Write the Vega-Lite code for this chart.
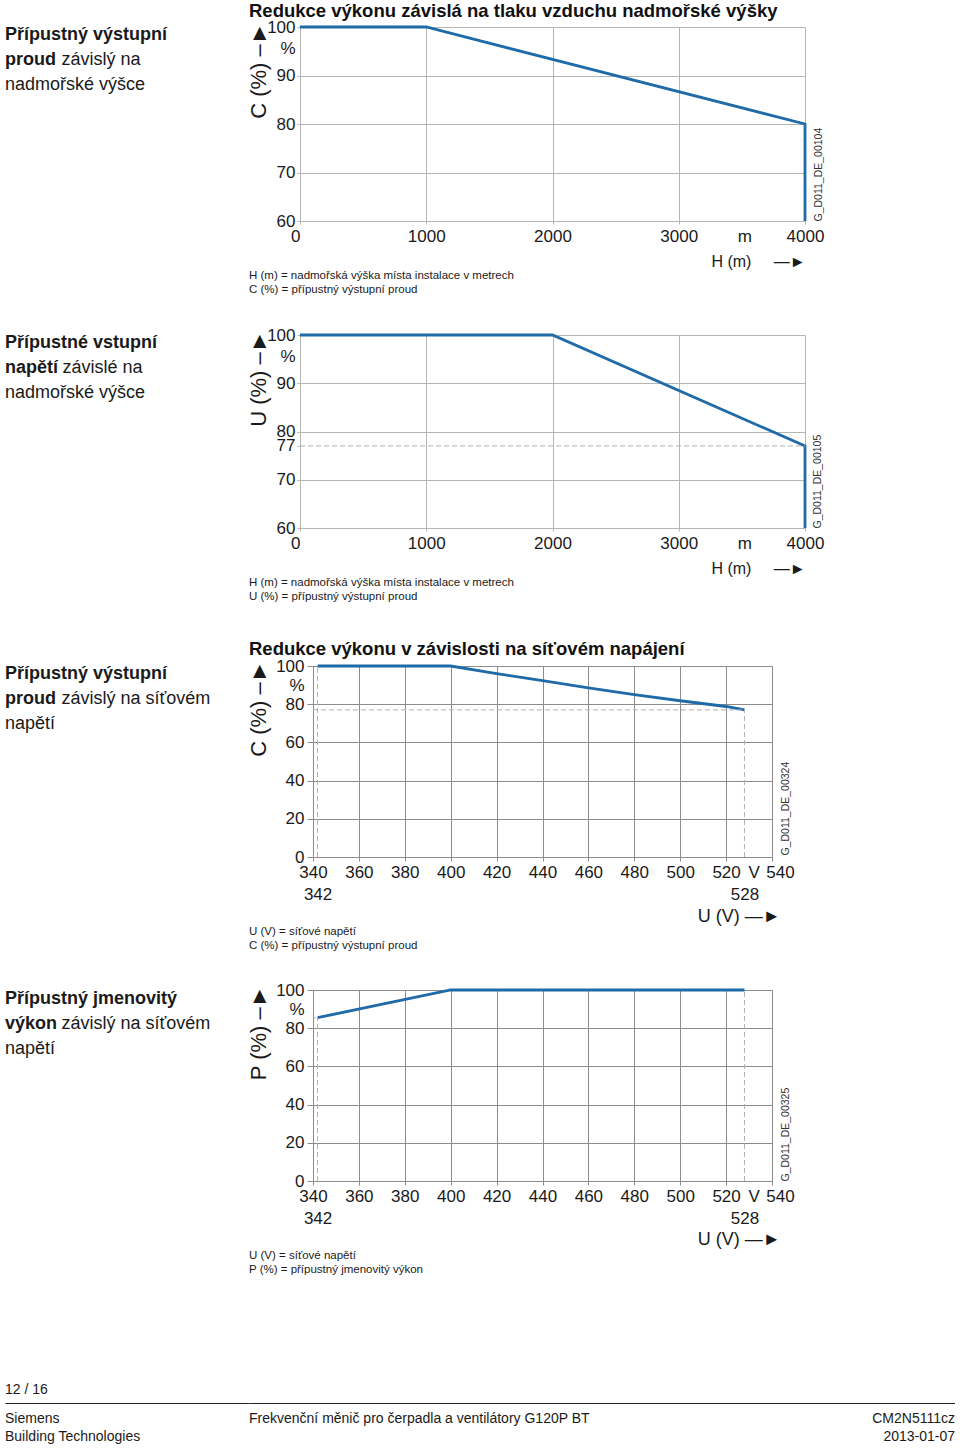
{
  "$schema": "https://vega.github.io/schema/vega-lite/v6.json",
  "background": "white",
  "padding": {"left": 5, "top": 1, "right": 0, "bottom": 0},
  "columns": 2,
  "spacing": 0,
  "bounds": "flush",
  "config": {
    "view": {"stroke": null},
    "font": "Liberation Sans",
    "text": {"font": "Liberation Sans", "color": "#1a1a1a"},
    "title": {"font": "Liberation Sans", "color": "#111111"},
    "axis": {"labelFont": "Liberation Sans", "titleFont": "Liberation Sans", "labelColor": "#1a1a1a", "titleColor": "#1a1a1a", "titleFontWeight": "normal", "labelOverlap": false, "labelFlush": false, "labelBound": false}
  },
  "concat": [
    {
      "width": 244, "height": 194,
      "data": {"values": [
        {"line": 1, "b": "Přípustný výstupní", "n": ""},
        {"line": 2, "b": "proud", "n": "závislý na"},
        {"line": 3, "b": "", "n": "nadmořské výšce"}
      ]},
      "encoding": {
        "y": {"field": "line", "type": "quantitative", "scale": {"domain": [0.7, 8.46], "reverse": true, "nice": false}, "axis": null},
        "x": {"datum": 0, "type": "quantitative", "scale": {"domain": [0, 1]}, "axis": null}
      },
      "layer": [
        {"mark": {"type": "text", "align": "left", "baseline": "middle", "fontSize": 18, "fontWeight": "bold"}, "encoding": {"text": {"field": "b"}}},
        {"transform": [{"filter": "datum.b != ''"}], "mark": {"type": "text", "align": "left", "baseline": "middle", "fontSize": 18, "dx": 56.5}, "encoding": {"text": {"field": "n"}}},
        {"transform": [{"filter": "datum.b == ''"}], "mark": {"type": "text", "align": "left", "baseline": "middle", "fontSize": 18}, "encoding": {"text": {"field": "n"}}}
      ]
    },
    {
      "width": 556, "height": 194,
      "title": {"text": "Redukce výkonu závislá na tlaku vzduchu nadmořské výšky", "anchor": "start", "frame": "group", "fontSize": 18.5, "fontWeight": "bold", "offset": -17, "baseline": "alphabetic"},
      "data": {"values": [
        {"H": 0, "C": 100, "i": 1},
        {"H": 1000, "C": 100, "i": 2},
        {"H": 4000, "C": 80, "i": 3},
        {"H": 4000, "C": 60, "i": 4}
      ]},
      "resolve": {"axis": {"y": "independent"}},
      "layer": [
        {
          "mark": {"type": "line", "color": "#1f6aa8", "strokeWidth": 2.8},
          "encoding": {
            "x": {"field": "H", "type": "quantitative", "scale": {"domain": [0, 4000], "nice": false, "range": [51, 556]},
              "axis": {"values": [0, 1000, 2000, 3000, 3520, 4000], "format": "d",
                "labelExpr": "datum.value == 3520 ? 'm' : datum.label",
                "labelFontSize": 17, "labelPadding": 4, "tickSize": 3,
                "gridColor": "#b5b5b5", "tickColor": "#b5b5b5", "domainColor": "#b5b5b5",
                "gridOpacity": {"condition": {"test": "datum.value == 3520", "value": 0}, "value": 1},
                "tickOpacity": {"condition": {"test": "datum.value == 3520", "value": 0}, "value": 1},
                "labelAlign": {"condition": {"test": "datum.value == 0", "value": "right"}, "value": "center"},
                "title": "H (m)\u00a0\u00a0\u00a0\u00a0\u00a0—►", "titleFontSize": 16, "titleX": 556, "titleY": 40, "titleAlign": "right", "titleBaseline": "middle"}},
            "y": {"field": "C", "type": "quantitative", "scale": {"domain": [60, 100], "nice": false, "zero": false},
              "axis": {"offset": -51, "values": [60, 70, 80, 90, 95.5, 100], "format": "d",
                "labelExpr": "datum.value == 95.5 ? '%' : datum.label",
                "labelFontSize": 17, "labelPadding": 2, "tickSize": 3,
                "gridColor": "#b5b5b5", "tickColor": "#b5b5b5", "domainColor": "#b5b5b5",
                "gridOpacity": {"condition": {"test": "datum.value == 95.5", "value": 0}, "value": 1},
                "tickOpacity": {"condition": {"test": "datum.value == 95.5", "value": 0}, "value": 1},
                "title": "C (%)\u00a0–►", "titleFontSize": 22, "titleAngle": -90, "titleX": -42, "titleY": -5, "titleAlign": "right", "titleBaseline": "middle"}},
            "order": {"field": "i"}
          }
        },
        {
          "mark": {"type": "point", "opacity": 0},
          "encoding": {
            "x": {"field": "H", "type": "quantitative"},
            "y": {"field": "C", "type": "quantitative",
              "axis": {"orient": "right", "title": "G_D011_DE_00104", "labels": false, "ticks": false, "domain": false, "grid": false, "titleAngle": -90, "titleX": 13, "titleY": 194, "titleAlign": "left", "titleBaseline": "middle", "titleFontSize": 10.5, "titleColor": "#333333"}}
          }
        }
      ]
    },
    {"width": 1, "height": 48, "data": {"values": [{}]}, "mark": {"type": "text", "text": ""}},
    {"width": 1, "height": 48, "data": {"values": [{}]}, "mark": {"type": "text", "text": ""}},
    {"width": 1, "height": 28, "data": {"values": [{}]}, "mark": {"type": "text", "text": ""}},
    {
      "width": 400, "height": 28,
      "data": {"values": [
        {"line": 1, "t": "H (m) = nadmořská výška místa instalace v metrech"},
        {"line": 2, "t": "C (%) = přípustný výstupní proud"}
      ]},
      "mark": {"type": "text", "align": "left", "baseline": "middle", "fontSize": 11.5},
      "encoding": {
        "y": {"field": "line", "type": "quantitative", "scale": {"domain": [0.5, 2.5], "reverse": true, "nice": false}, "axis": null},
        "x": {"datum": 0, "type": "quantitative", "scale": {"domain": [0, 1]}, "axis": null},
        "text": {"field": "t"}
      }
    },
    {"width": 1, "height": 38, "data": {"values": [{}]}, "mark": {"type": "text", "text": ""}},
    {"width": 1, "height": 38, "data": {"values": [{}]}, "mark": {"type": "text", "text": ""}},
    {
      "width": 244, "height": 193,
      "data": {"values": [
        {"line": 1, "b": "Přípustné vstupní", "n": ""},
        {"line": 2, "b": "napětí", "n": "závislé na"},
        {"line": 3, "b": "", "n": "nadmořské výšce"}
      ]},
      "encoding": {
        "y": {"field": "line", "type": "quantitative", "scale": {"domain": [0.7, 8.42], "reverse": true, "nice": false}, "axis": null},
        "x": {"datum": 0, "type": "quantitative", "scale": {"domain": [0, 1]}, "axis": null}
      },
      "layer": [
        {"mark": {"type": "text", "align": "left", "baseline": "middle", "fontSize": 18, "fontWeight": "bold"}, "encoding": {"text": {"field": "b"}}},
        {"transform": [{"filter": "datum.b != ''"}], "mark": {"type": "text", "align": "left", "baseline": "middle", "fontSize": 18, "dx": 57.5}, "encoding": {"text": {"field": "n"}}},
        {"transform": [{"filter": "datum.b == ''"}], "mark": {"type": "text", "align": "left", "baseline": "middle", "fontSize": 18}, "encoding": {"text": {"field": "n"}}}
      ]
    },
    {
      "width": 556, "height": 193,
      "resolve": {"axis": {"y": "independent"}},
      "layer": [
        {
          "data": {"values": [
            {"H": 0, "U": 100, "i": 1},
            {"H": 2000, "U": 100, "i": 2},
            {"H": 4000, "U": 77, "i": 3},
            {"H": 4000, "U": 60, "i": 4}
          ]},
          "mark": {"type": "line", "color": "#1f6aa8", "strokeWidth": 2.8},
          "encoding": {
            "x": {"field": "H", "type": "quantitative", "scale": {"domain": [0, 4000], "nice": false, "range": [51, 556]},
              "axis": {"values": [0, 1000, 2000, 3000, 3520, 4000], "format": "d",
                "labelExpr": "datum.value == 3520 ? 'm' : datum.label",
                "labelFontSize": 17, "labelPadding": 4, "tickSize": 3,
                "gridColor": "#b5b5b5", "tickColor": "#b5b5b5", "domainColor": "#b5b5b5",
                "gridOpacity": {"condition": {"test": "datum.value == 3520", "value": 0}, "value": 1},
                "tickOpacity": {"condition": {"test": "datum.value == 3520", "value": 0}, "value": 1},
                "labelAlign": {"condition": {"test": "datum.value == 0", "value": "right"}, "value": "center"},
                "title": "H (m)\u00a0\u00a0\u00a0\u00a0\u00a0—►", "titleFontSize": 16, "titleX": 556, "titleY": 40, "titleAlign": "right", "titleBaseline": "middle"}},
            "y": {"field": "U", "type": "quantitative", "scale": {"domain": [60, 100], "nice": false, "zero": false},
              "axis": {"offset": -51, "values": [60, 70, 77, 80, 90, 95.5, 100], "format": "d",
                "labelExpr": "datum.value == 95.5 ? '%' : datum.label",
                "labelFontSize": 17, "labelPadding": 2, "tickSize": 3,
                "gridColor": "#b5b5b5", "tickColor": "#b5b5b5", "domainColor": "#b5b5b5",
                "gridOpacity": {"condition": {"test": "datum.value == 95.5 || datum.value == 77", "value": 0}, "value": 1},
                "tickOpacity": {"condition": {"test": "datum.value == 95.5", "value": 0}, "value": 1},
                "title": "U (%)\u00a0–►", "titleFontSize": 22, "titleAngle": -90, "titleX": -42, "titleY": -5, "titleAlign": "right", "titleBaseline": "middle"}},
            "order": {"field": "i"}
          }
        },
        {
          "data": {"values": [{"U": 77, "from": 0, "to": 4000}]},
          "mark": {"type": "rule", "color": "#b0b0b0", "strokeDash": [5, 3], "strokeWidth": 1},
          "encoding": {"x": {"field": "from", "type": "quantitative"}, "x2": {"field": "to"},
            "y": {"field": "U", "type": "quantitative", "axis": {"orient": "right", "title": "G_D011_DE_00105", "labels": false, "ticks": false, "domain": false, "grid": false, "titleAngle": -90, "titleX": 12, "titleY": 193, "titleAlign": "left", "titleBaseline": "middle", "titleFontSize": 10.5, "titleColor": "#333333"}}}
        }
      ]
    },
    {"width": 1, "height": 48, "data": {"values": [{}]}, "mark": {"type": "text", "text": ""}},
    {"width": 1, "height": 48, "data": {"values": [{}]}, "mark": {"type": "text", "text": ""}},
    {"width": 1, "height": 28, "data": {"values": [{}]}, "mark": {"type": "text", "text": ""}},
    {
      "width": 400, "height": 28,
      "data": {"values": [
        {"line": 1, "t": "H (m) = nadmořská výška místa instalace v metrech"},
        {"line": 2, "t": "U (%) = přípustný výstupní proud"}
      ]},
      "mark": {"type": "text", "align": "left", "baseline": "middle", "fontSize": 11.5},
      "encoding": {
        "y": {"field": "line", "type": "quantitative", "scale": {"domain": [0.5, 2.5], "reverse": true, "nice": false}, "axis": null},
        "x": {"datum": 0, "type": "quantitative", "scale": {"domain": [0, 1]}, "axis": null},
        "text": {"field": "t"}
      }
    },
    {"width": 1, "height": 62, "data": {"values": [{}]}, "mark": {"type": "text", "text": ""}},
    {"width": 1, "height": 62, "data": {"values": [{}]}, "mark": {"type": "text", "text": ""}},
    {
      "width": 244, "height": 191,
      "data": {"values": [
        {"line": 1, "b": "Přípustný výstupní", "n": ""},
        {"line": 2, "b": "proud", "n": "závislý na síťovém"},
        {"line": 3, "b": "", "n": "napětí"}
      ]},
      "encoding": {
        "y": {"field": "line", "type": "quantitative", "scale": {"domain": [0.7, 8.34], "reverse": true, "nice": false}, "axis": null},
        "x": {"datum": 0, "type": "quantitative", "scale": {"domain": [0, 1]}, "axis": null}
      },
      "layer": [
        {"mark": {"type": "text", "align": "left", "baseline": "middle", "fontSize": 18, "fontWeight": "bold"}, "encoding": {"text": {"field": "b"}}},
        {"transform": [{"filter": "datum.b != ''"}], "mark": {"type": "text", "align": "left", "baseline": "middle", "fontSize": 18, "dx": 56.5}, "encoding": {"text": {"field": "n"}}},
        {"transform": [{"filter": "datum.b == ''"}], "mark": {"type": "text", "align": "left", "baseline": "middle", "fontSize": 18}, "encoding": {"text": {"field": "n"}}}
      ]
    },
    {
      "width": 523, "height": 191,
      "title": {"text": "Redukce výkonu v závislosti na síťovém napájení", "anchor": "start", "frame": "group", "fontSize": 18.5, "fontWeight": "bold", "offset": -16.5, "baseline": "alphabetic"},
      "resolve": {"axis": {"y": "independent"}},
      "layer": [
        {
          "data": {"values": [
            {"U": 342, "C": 100},
            {"U": 400, "C": 100},
            {"U": 420, "C": 96},
            {"U": 440, "C": 92.3},
            {"U": 460, "C": 88.6},
            {"U": 480, "C": 85},
            {"U": 500, "C": 81.8},
            {"U": 520, "C": 78.8},
            {"U": 528, "C": 77}
          ]},
          "mark": {"type": "line", "color": "#1f6aa8", "strokeWidth": 2.8},
          "encoding": {
            "x": {"field": "U", "type": "quantitative", "scale": {"domain": [340, 540], "nice": false, "zero": false, "range": [64, 523]},
              "axis": {"values": [340, 342, 360, 380, 400, 420, 440, 460, 480, 500, 520, 528, 532, 540], "format": "d",
                "labelExpr": "datum.value == 342 || datum.value == 528 ? ['', datum.label] : datum.value == 532 ? 'V' : datum.label",
                "labelFontSize": 17, "labelPadding": 3, "tickSize": 4, "labelLineHeight": 22,
                "labelOffset": {"condition": {"test": "datum.value == 540", "value": 8}, "value": 0},
                "gridColor": "#8c8c8c", "tickColor": "#8c8c8c", "domainColor": "#8c8c8c",
                "gridOpacity": {"condition": {"test": "datum.value == 342 || datum.value == 528 || datum.value == 532", "value": 0}, "value": 1},
                "tickOpacity": {"condition": {"test": "datum.value == 342 || datum.value == 528 || datum.value == 532", "value": 0}, "value": 1},
                "title": "U (V)\u00a0—►", "titleFontSize": 18, "titleX": 531, "titleY": 59, "titleAlign": "right", "titleBaseline": "middle"}},
            "y": {"field": "C", "type": "quantitative", "scale": {"domain": [0, 100], "nice": false},
              "axis": {"offset": -64, "values": [0, 20, 40, 60, 80, 90, 100], "format": "d",
                "labelExpr": "datum.value == 90 ? '%' : datum.label",
                "labelFontSize": 17, "labelPadding": 3, "tickSize": 6,
                "gridColor": "#8c8c8c", "tickColor": "#8c8c8c", "domainColor": "#8c8c8c",
                "gridOpacity": {"condition": {"test": "datum.value == 90", "value": 0}, "value": 1},
                "tickOpacity": {"condition": {"test": "datum.value == 90", "value": 0}, "value": 1},
                "title": "C (%)\u00a0–►", "titleFontSize": 22, "titleAngle": -90, "titleX": -55, "titleY": -6, "titleAlign": "right", "titleBaseline": "middle"}}
          }
        },
        {
          "data": {"values": [{"U": 342, "lo": 0, "hi": 100}, {"U": 528, "lo": 0, "hi": 77}]},
          "mark": {"type": "rule", "color": "#b0b0b0", "strokeDash": [5, 3], "strokeWidth": 1},
          "encoding": {"x": {"field": "U", "type": "quantitative"}, "y": {"field": "lo", "type": "quantitative", "axis": null}, "y2": {"field": "hi"}}
        },
        {
          "data": {"values": [{"C": 77, "from": 340, "to": 528}]},
          "mark": {"type": "rule", "color": "#b0b0b0", "strokeDash": [5, 3], "strokeWidth": 1},
          "encoding": {"x": {"field": "from", "type": "quantitative"}, "x2": {"field": "to"},
            "y": {"field": "C", "type": "quantitative", "axis": {"orient": "right", "title": "G_D011_DE_00324", "labels": false, "ticks": false, "domain": false, "grid": false, "titleAngle": -90, "titleX": 13, "titleY": 189, "titleAlign": "left", "titleBaseline": "middle", "titleFontSize": 10.5, "titleColor": "#333333"}}}
        }
      ]
    },
    {"width": 1, "height": 68, "data": {"values": [{}]}, "mark": {"type": "text", "text": ""}},
    {"width": 1, "height": 68, "data": {"values": [{}]}, "mark": {"type": "text", "text": ""}},
    {"width": 1, "height": 28, "data": {"values": [{}]}, "mark": {"type": "text", "text": ""}},
    {
      "width": 400, "height": 28,
      "data": {"values": [
        {"line": 1, "t": "U (V) = síťové napětí"},
        {"line": 2, "t": "C (%) = přípustný výstupní proud"}
      ]},
      "mark": {"type": "text", "align": "left", "baseline": "middle", "fontSize": 11.5},
      "encoding": {
        "y": {"field": "line", "type": "quantitative", "scale": {"domain": [0.5, 2.5], "reverse": true, "nice": false}, "axis": null},
        "x": {"datum": 0, "type": "quantitative", "scale": {"domain": [0, 1]}, "axis": null},
        "text": {"field": "t"}
      }
    },
    {"width": 1, "height": 37, "data": {"values": [{}]}, "mark": {"type": "text", "text": ""}},
    {"width": 1, "height": 37, "data": {"values": [{}]}, "mark": {"type": "text", "text": ""}},
    {
      "width": 244, "height": 191,
      "data": {"values": [
        {"line": 1, "b": "Přípustný jmenovitý", "n": ""},
        {"line": 2, "b": "výkon", "n": "závislý na síťovém"},
        {"line": 3, "b": "", "n": "napětí"}
      ]},
      "encoding": {
        "y": {"field": "line", "type": "quantitative", "scale": {"domain": [0.65, 8.29], "reverse": true, "nice": false}, "axis": null},
        "x": {"datum": 0, "type": "quantitative", "scale": {"domain": [0, 1]}, "axis": null}
      },
      "layer": [
        {"mark": {"type": "text", "align": "left", "baseline": "middle", "fontSize": 18, "fontWeight": "bold"}, "encoding": {"text": {"field": "b"}}},
        {"transform": [{"filter": "datum.b != ''"}], "mark": {"type": "text", "align": "left", "baseline": "middle", "fontSize": 18, "dx": 56.5}, "encoding": {"text": {"field": "n"}}},
        {"transform": [{"filter": "datum.b == ''"}], "mark": {"type": "text", "align": "left", "baseline": "middle", "fontSize": 18}, "encoding": {"text": {"field": "n"}}}
      ]
    },
    {
      "width": 523, "height": 191,
      "resolve": {"axis": {"y": "independent"}},
      "layer": [
        {
          "data": {"values": [
            {"U": 342, "P": 85.5},
            {"U": 400, "P": 100},
            {"U": 528, "P": 100}
          ]},
          "mark": {"type": "line", "color": "#1f6aa8", "strokeWidth": 2.8},
          "encoding": {
            "x": {"field": "U", "type": "quantitative", "scale": {"domain": [340, 540], "nice": false, "zero": false, "range": [64, 523]},
              "axis": {"values": [340, 342, 360, 380, 400, 420, 440, 460, 480, 500, 520, 528, 532, 540], "format": "d",
                "labelExpr": "datum.value == 342 || datum.value == 528 ? ['', datum.label] : datum.value == 532 ? 'V' : datum.label",
                "labelFontSize": 17, "labelPadding": 3, "tickSize": 4, "labelLineHeight": 22,
                "labelOffset": {"condition": {"test": "datum.value == 540", "value": 8}, "value": 0},
                "gridColor": "#8c8c8c", "tickColor": "#8c8c8c", "domainColor": "#8c8c8c",
                "gridOpacity": {"condition": {"test": "datum.value == 342 || datum.value == 528 || datum.value == 532", "value": 0}, "value": 1},
                "tickOpacity": {"condition": {"test": "datum.value == 342 || datum.value == 528 || datum.value == 532", "value": 0}, "value": 1},
                "title": "U (V)\u00a0—►", "titleFontSize": 18, "titleX": 531, "titleY": 58, "titleAlign": "right", "titleBaseline": "middle"}},
            "y": {"field": "P", "type": "quantitative", "scale": {"domain": [0, 100], "nice": false},
              "axis": {"offset": -64, "values": [0, 20, 40, 60, 80, 90, 100], "format": "d",
                "labelExpr": "datum.value == 90 ? '%' : datum.label",
                "labelFontSize": 17, "labelPadding": 3, "tickSize": 6,
                "gridColor": "#8c8c8c", "tickColor": "#8c8c8c", "domainColor": "#8c8c8c",
                "gridOpacity": {"condition": {"test": "datum.value == 90", "value": 0}, "value": 1},
                "tickOpacity": {"condition": {"test": "datum.value == 90", "value": 0}, "value": 1},
                "title": "P (%)\u00a0–►", "titleFontSize": 22, "titleAngle": -90, "titleX": -55, "titleY": -5, "titleAlign": "right", "titleBaseline": "middle"}}
          }
        },
        {
          "data": {"values": [{"U": 342, "lo": 0, "hi": 85.5}, {"U": 528, "lo": 0, "hi": 100}]},
          "mark": {"type": "rule", "color": "#b0b0b0", "strokeDash": [5, 3], "strokeWidth": 1},
          "encoding": {"x": {"field": "U", "type": "quantitative"}, "y": {"field": "lo", "type": "quantitative", "axis": null}, "y2": {"field": "hi"}}
        },
        {
          "data": {"values": [{"P": 85.5, "from": 340, "to": 342}]},
          "mark": {"type": "rule", "color": "#b0b0b0", "strokeDash": [3, 2], "strokeWidth": 1},
          "encoding": {"x": {"field": "from", "type": "quantitative"}, "x2": {"field": "to"},
            "y": {"field": "P", "type": "quantitative", "axis": {"orient": "right", "title": "G_D011_DE_00325", "labels": false, "ticks": false, "domain": false, "grid": false, "titleAngle": -90, "titleX": 13, "titleY": 191, "titleAlign": "left", "titleBaseline": "middle", "titleFontSize": 10.5, "titleColor": "#333333"}}}
        }
      ]
    },
    {"width": 1, "height": 68, "data": {"values": [{}]}, "mark": {"type": "text", "text": ""}},
    {"width": 1, "height": 68, "data": {"values": [{}]}, "mark": {"type": "text", "text": ""}},
    {"width": 1, "height": 28, "data": {"values": [{}]}, "mark": {"type": "text", "text": ""}},
    {
      "width": 400, "height": 28,
      "data": {"values": [
        {"line": 1, "t": "U (V) = síťové napětí"},
        {"line": 2, "t": "P (%) = přípustný jmenovitý výkon"}
      ]},
      "mark": {"type": "text", "align": "left", "baseline": "middle", "fontSize": 11.5},
      "encoding": {
        "y": {"field": "line", "type": "quantitative", "scale": {"domain": [0.5, 2.5], "reverse": true, "nice": false}, "axis": null},
        "x": {"datum": 0, "type": "quantitative", "scale": {"domain": [0, 1]}, "axis": null},
        "text": {"field": "t"}
      }
    },
    {"width": 1, "height": 99, "data": {"values": [{}]}, "mark": {"type": "text", "text": ""}},
    {"width": 1, "height": 99, "data": {"values": [{}]}, "mark": {"type": "text", "text": ""}},
    {
      "width": 244, "height": 27,
      "data": {"values": [{"t": "12 / 16"}]},
      "mark": {"type": "text", "align": "left", "baseline": "middle", "fontSize": 14},
      "encoding": {
        "x": {"datum": 0, "type": "quantitative", "scale": {"domain": [0, 1]},
          "axis": {"domain": true, "domainColor": "#222222", "domainWidth": 1, "ticks": false, "labels": false, "grid": false, "title": null}},
        "text": {"field": "t"}
      }
    },
    {
      "width": 706, "height": 27,
      "data": {"values": [{}]},
      "mark": {"type": "text", "text": ""},
      "encoding": {
        "x": {"datum": 0, "type": "quantitative", "scale": {"domain": [0, 1]},
          "axis": {"domain": true, "domainColor": "#222222", "domainWidth": 1, "ticks": false, "labels": false, "grid": false, "title": null}}
      }
    },
    {
      "width": 244, "height": 46,
      "data": {"values": [{"line": 1, "t": "Siemens"}, {"line": 2, "t": "Building Technologies"}]},
      "mark": {"type": "text", "align": "left", "baseline": "middle", "fontSize": 14},
      "encoding": {
        "y": {"field": "line", "type": "quantitative", "scale": {"domain": [0.1111, 2.6667], "reverse": true, "nice": false}, "axis": null},
        "x": {"datum": 0, "type": "quantitative", "scale": {"domain": [0, 1]}, "axis": null},
        "text": {"field": "t"}
      }
    },
    {
      "width": 706, "height": 46,
      "data": {"values": [
        {"line": 1, "left": "Frekvenční měnič pro čerpadla a ventilátory G120P BT", "right": "CM2N5111cz"},
        {"line": 2, "left": "", "right": "2013-01-07"}
      ]},
      "encoding": {
        "y": {"field": "line", "type": "quantitative", "scale": {"domain": [0.1111, 2.6667], "reverse": true, "nice": false}, "axis": null}
      },
      "layer": [
        {"mark": {"type": "text", "align": "left", "baseline": "middle", "fontSize": 14},
          "encoding": {"x": {"datum": 0, "type": "quantitative", "scale": {"domain": [0, 1]}, "axis": null}, "text": {"field": "left"}}},
        {"mark": {"type": "text", "align": "right", "baseline": "middle", "fontSize": 14},
          "encoding": {"x": {"datum": 1, "type": "quantitative"}, "text": {"field": "right"}}}
      ]
    }
  ]
}
